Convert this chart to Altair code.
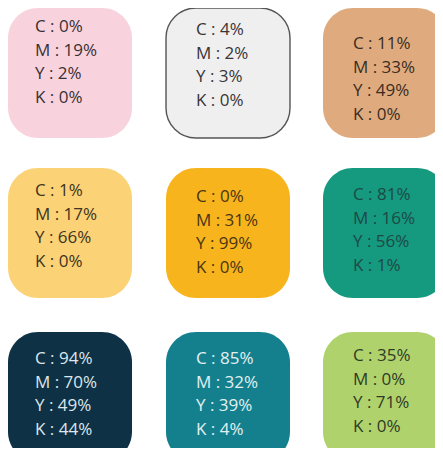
import altair as alt
import pandas as pd

# ---- data -------------------------------------------------------------
swatch_fill = ["#F8D3DE", "#EFEFEF", "#DFAB7E",
               "#FBD276", "#F8B41C", "#15997F",
               "#0E3145", "#14808E", "#AFD26C"]
cyan    = [0, 4, 11, 1, 0, 81, 94, 85, 35]
magenta = [19, 2, 33, 17, 31, 16, 70, 32, 0]
yellow  = [2, 3, 49, 66, 99, 56, 49, 39, 71]
black   = [0, 0, 0, 0, 0, 1, 44, 4, 0]
letters = ["C", "M", "Y", "K"]

# ---- styles -----------------------------------------------------------
text_color = ["#3A3032", "#3A3436", "#3B2B22",
              "#3E3420", "#4A3512", "#1D4A46",
              "#DCE6EC", "#E2F0F2", "#2F3A26"]
box_stroke = [None, "#555555", None, None, None, None, None, None, None]
text_dy = [19, 22, 36, 23, 29, 27, 27, 27, 24]

W, H = 427, 440
BOX_W, BOX_H = 124, 130
COL_LEFT = [0, 158, 315]
ROW_TOP = [0, 160, 324]
TEXT_DX = [27, 30, 30]
LINE_STEP = 23.5

rows = []
for i, fill in enumerate(swatch_fill):
    r, c = divmod(i, 3)
    x0 = COL_LEFT[c]
    y0 = ROW_TOP[r]
    rows.append(dict(i=i, x=x0, x2=x0 + BOX_W, y=y0, y2=y0 + BOX_H,
                     fill=fill, stroke=box_stroke[i] or fill,
                     sw=1.4 if box_stroke[i] else 0))
boxes = pd.DataFrame(rows)

labels = []
for i in range(len(swatch_fill)):
    r, c = divmod(i, 3)
    vals = [cyan[i], magenta[i], yellow[i], black[i]]
    for j, (L, v) in enumerate(zip(letters, vals)):
        labels.append(dict(
            x=COL_LEFT[c] + TEXT_DX[c],
            y=ROW_TOP[r] + text_dy[i] + j * LINE_STEP,
            label=f"{L} : {v}%",
            color=text_color[i]))
labels = pd.DataFrame(labels)

xs = alt.Scale(domain=[0, W], nice=False, zero=False)
ys = alt.Scale(domain=[0, H], nice=False, zero=False, reverse=True)

rects = alt.Chart(boxes).mark_rect(cornerRadius=30, clip=True).encode(
    x=alt.X("x:Q", scale=xs, axis=None),
    x2="x2:Q",
    y=alt.Y("y:Q", scale=ys, axis=None),
    y2="y2:Q",
    fill=alt.Fill("fill:N", scale=None),
    stroke=alt.Stroke("stroke:N", scale=None),
    strokeWidth=alt.StrokeWidth("sw:Q", scale=None),
)

texts = alt.Chart(labels).mark_text(
    align="left", baseline="middle", font="Open Sans", fontSize=17, clip=True
).encode(
    x=alt.X("x:Q", scale=xs, axis=None),
    y=alt.Y("y:Q", scale=ys, axis=None),
    text="label:N",
    color=alt.Color("color:N", scale=None),
)

chart = alt.layer(rects, texts).properties(
    width=W, height=H, autosize="none", padding=0, background="white"
).configure_view(stroke=None)

chart.save("out.html", embed_options={"renderer": "svg", "actions": False})
